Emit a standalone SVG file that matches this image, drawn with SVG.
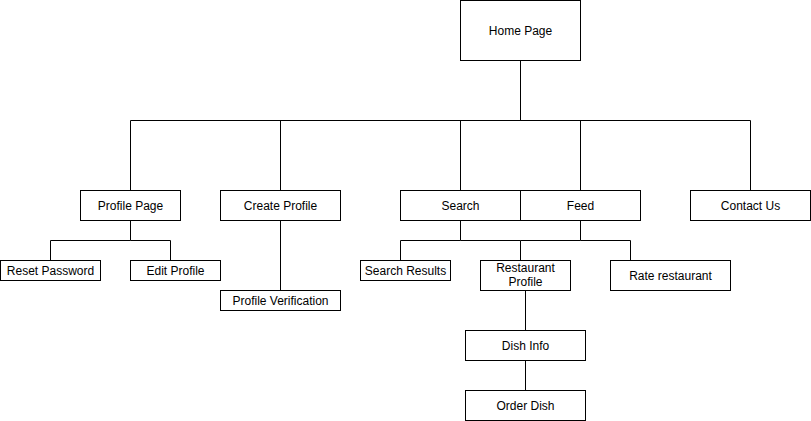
<svg xmlns="http://www.w3.org/2000/svg" width="811" height="421" viewBox="0 0 811 421">
<style>
.n rect{fill:#fff;stroke:#000;stroke-width:1}
.n text{font-family:"Liberation Sans",Arial,sans-serif;font-size:12px;fill:#000;text-anchor:middle}
.e path{fill:none;stroke:#000;stroke-width:1}
</style>
<rect width="811" height="421" fill="#fff"/>
<g class="e" id="connectors">
<path d="M520.5 60.5V120.5H130.5V190.5"/>
<path d="M520.5 120.5H280.5V190.5"/>
<path d="M520.5 120.5H460.5V190.5"/>
<path d="M520.5 120.5H580.5V190.5"/>
<path d="M520.5 120.5H750.5V190.5"/>
<path d="M130.5 220.5V240.5H50.5V260.5"/>
<path d="M130.5 240.5H170.5V260.5"/>
<path d="M280.5 220.5V290.5"/>
<path d="M460.5 220.5V240.5H400.5V260.5"/>
<path d="M460.5 240.5H520.5V260.5"/>
<path d="M580.5 220.5V240.5H520.5"/>
<path d="M580.5 240.5H630.5V260.5"/>
<path d="M525.5 290.5V330.5"/>
<path d="M525.5 360.5V390.5"/>
</g>
<g class="n" id="home"><rect x="460.5" y="0.5" width="120" height="60"/><text x="520.5" y="35">Home Page</text></g>
<g class="n" id="profile-page"><rect x="80.5" y="190.5" width="100" height="30"/><text x="130.5" y="210">Profile Page</text></g>
<g class="n" id="create-profile"><rect x="220.5" y="190.5" width="120" height="30"/><text x="280.5" y="210">Create Profile</text></g>
<g class="n" id="search"><rect x="400.5" y="190.5" width="120" height="30"/><text x="460.5" y="210">Search</text></g>
<g class="n" id="feed"><rect x="520.5" y="190.5" width="120" height="30"/><text x="580.5" y="210">Feed</text></g>
<g class="n" id="contact-us"><rect x="690.5" y="190.5" width="120" height="30"/><text x="750.5" y="210">Contact Us</text></g>
<g class="n" id="reset-password"><rect x="0.5" y="260.5" width="100" height="20"/><text x="50.5" y="275">Reset Password</text></g>
<g class="n" id="edit-profile"><rect x="130.5" y="260.5" width="90" height="20"/><text x="175.5" y="275">Edit Profile</text></g>
<g class="n" id="profile-verification"><rect x="220.5" y="290.5" width="120" height="20"/><text x="280.5" y="305">Profile Verification</text></g>
<g class="n" id="search-results"><rect x="360.5" y="260.5" width="90" height="20"/><text x="405.5" y="275">Search Results</text></g>
<g class="n" id="restaurant-profile"><rect x="480.5" y="260.5" width="90" height="30"/><text x="525.5" y="272">Restaurant</text><text x="525.5" y="286">Profile</text></g>
<g class="n" id="rate-restaurant"><rect x="610.5" y="260.5" width="120" height="30"/><text x="670.5" y="280">Rate restaurant</text></g>
<g class="n" id="dish-info"><rect x="465.5" y="330.5" width="120" height="30"/><text x="525.5" y="350">Dish Info</text></g>
<g class="n" id="order-dish"><rect x="465.5" y="390.5" width="120" height="30"/><text x="525.5" y="410">Order Dish</text></g>
</svg>
